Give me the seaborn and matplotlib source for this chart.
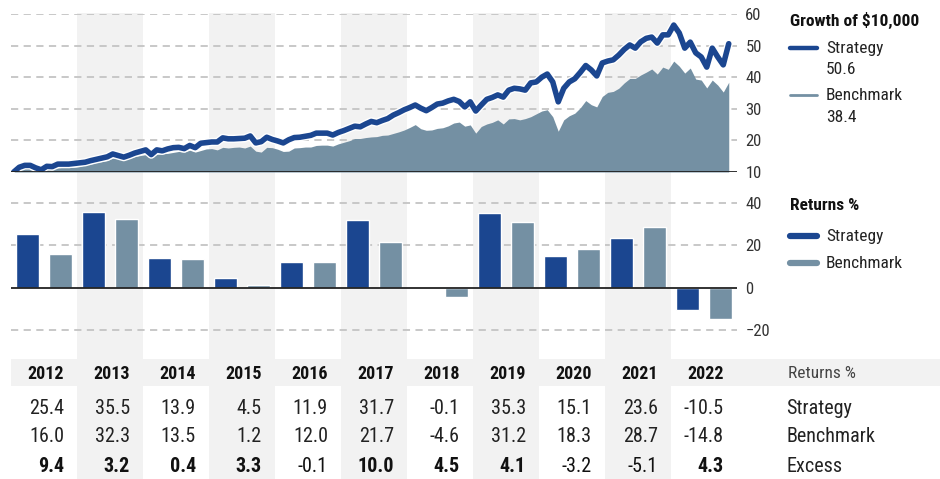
import numpy as np
import pandas as pd
import seaborn as sns
import matplotlib.pyplot as plt
import matplotlib.patheffects as pe
from matplotlib.lines import Line2D
from matplotlib.patches import Rectangle

# ---- data ----
years = ["2012", "2013", "2014", "2015", "2016", "2017", "2018", "2019", "2020", "2021", "2022"]
strategy_ret = [25.4, 35.5, 13.9, 4.5, 11.9, 31.7, -0.1, 35.3, 15.1, 23.6, -10.5]
benchmark_ret = [16.0, 32.3, 13.5, 1.2, 12.0, 21.7, -4.6, 31.2, 18.3, 28.7, -14.8]
excess_ret = [9.4, 3.2, 0.4, 3.3, -0.1, 10.0, 4.5, 4.1, -3.2, -5.1, 4.3]

# growth of $10,000 (in thousands), month ends Dec 2011 .. Oct 2022
strategy_growth = [
    10.0,
    11.5, 12.1, 12.1, 11.3, 10.7, 11.8, 11.7, 12.5, 12.5, 12.5, 12.7, 12.9,
    13.1, 13.6, 14.0, 14.4, 14.8, 15.7, 15.2, 14.7, 15.3, 16.0, 16.5, 17.0,
    15.5, 17.0, 16.7, 17.3, 17.7, 17.8, 17.4, 18.4, 17.7, 19.1, 19.3, 19.5,
    19.5, 20.8, 20.5, 20.5, 20.6, 20.7, 21.4, 19.2, 19.6, 21.0, 20.3, 19.8,
    19.2, 20.2, 20.9, 21.0, 21.3, 21.6, 22.3, 22.3, 22.3, 21.7, 22.5, 23.1,
    23.8, 24.5, 24.3, 25.2, 26.0, 25.6, 26.3, 26.9, 28.0, 28.8, 29.7, 30.4,
    31.2, 30.2, 29.4, 30.4, 31.5, 31.8, 32.5, 33.0, 32.3, 30.6, 32.2, 29.3,
    31.2, 33.0, 33.6, 34.4, 33.7, 35.9, 36.5, 36.3, 35.9, 38.2, 38.5, 40.0,
    41.0, 38.5, 32.2, 36.5, 38.5, 39.5, 41.5, 43.7, 42.3, 40.4, 44.5, 45.1,
    45.5, 47.0, 48.8, 50.2, 49.2, 51.2, 52.3, 52.7, 50.8, 53.4, 53.4, 56.5,
    54.0, 49.2, 51.1, 47.7, 46.4, 43.2, 49.2, 46.4, 43.9, 50.6,
]
benchmark_growth = [
    10.0,
    10.9, 11.2, 11.3, 10.9, 10.4, 10.9, 11.0, 11.3, 11.5, 11.4, 11.5, 11.7,
    12.3, 12.5, 13.0, 13.3, 13.6, 14.4, 14.2, 13.8, 14.3, 14.9, 15.2, 15.5,
    14.8, 15.6, 15.8, 15.9, 16.2, 16.5, 16.3, 16.9, 16.3, 16.8, 17.3, 17.4,
    17.0, 17.8, 17.6, 17.8, 17.9, 17.6, 18.2, 16.6, 16.3, 17.8, 17.7, 17.2,
    16.5, 16.6, 17.6, 17.7, 17.9, 17.9, 18.4, 18.5, 18.5, 18.2, 18.9, 19.4,
    19.9, 20.6, 20.6, 20.9, 21.1, 21.2, 21.6, 21.7, 22.2, 22.7, 23.3, 24.1,
    25.0, 23.7, 23.2, 23.3, 23.8, 24.0, 24.6, 25.5, 25.8, 24.5, 24.9, 22.3,
    24.4, 25.2, 25.7, 26.5, 25.2, 26.8, 26.9, 26.5, 26.9, 27.5, 28.4, 29.3,
    29.7, 27.5, 22.9, 26.5, 27.8, 28.6, 30.3, 32.6, 31.3, 30.6, 33.9, 35.2,
    35.5, 36.5, 38.2, 39.6, 39.6, 40.7, 41.6, 42.6, 41.0, 43.2, 42.5, 45.1,
    43.5, 41.3, 42.9, 39.4, 39.1, 36.6, 39.1, 37.5, 35.3, 38.4,
]

STRAT = "#1b4690"
BENCH = "#7490a3"
SHADE = "#f2f2f2"
GRID = "#c4c4c4"

sns.set_theme(style="white")
plt.rcParams["font.family"] = ["Roboto Condensed", "DejaVu Sans"]

W, H = 940, 479
fig = plt.figure(figsize=(W / 100, H / 100), dpi=100)


def box(l, t, r, b):
    return [l / W, 1 - b / H, (r - l) / W, (b - t) / H]


def fx(px):
    return px / W


def fy(py):
    return 1 - py / H


# background year columns
bg = fig.add_axes(box(11, 13, 737, 479))
bg.set_xlim(-0.5, 10.5)
bg.set_ylim(0, 1)
for i in range(1, len(years), 2):
    bg.axvspan(i - 0.5, i + 0.5, color=SHADE, lw=0)
bg.axis("off")

# ---- growth panel ----
dates = pd.date_range("2011-12-31", periods=len(strategy_growth), freq="ME")
xg = np.asarray(dates.year + dates.month / 12 + 1 / 24)

ax = fig.add_axes(box(11, 14, 737, 172))
ax.patch.set_alpha(0)
ax.fill_between(xg, 10, benchmark_growth, color=BENCH, lw=0, zorder=2)
sns.lineplot(x=xg, y=strategy_growth, ax=ax, color=STRAT, lw=4.0, zorder=3,
             path_effects=[pe.Stroke(linewidth=6.0, foreground="white"), pe.Normal()])
for v in [20, 30, 40, 50, 60]:
    ax.axhline(v, color=GRID, lw=1.3, dashes=(4, 3), zorder=1)
ax.axhline(10, color="#222222", lw=1.3, zorder=4)
ax.set_xlim(2012, 2023)
ax.set_ylim(10, 60)
ax.set_yticks([10, 20, 30, 40, 50, 60])
ax.set_xticks([])
ax.set_xlabel("")
ax.set_ylabel("")
ax.yaxis.tick_right()
ax.tick_params(axis="y", length=0, pad=6, labelsize=12, labelcolor="#333333")
for s in ax.spines.values():
    s.set_visible(False)

# ---- returns panel ----
df = pd.DataFrame({
    "year": years * 2,
    "series": ["Strategy"] * len(years) + ["Benchmark"] * len(years),
    "ret": strategy_ret + benchmark_ret,
})
ax2 = fig.add_axes(box(11, 180, 737, 359))
ax2.patch.set_alpha(0)
sns.barplot(data=df, x="year", y="ret", hue="series", palette=[STRAT, BENCH],
            width=1.0, gap=0.3, saturation=1, legend=False, ax=ax2, zorder=3)
for v in [40, 20, -20]:
    ax2.axhline(v, color=GRID, lw=1.3, dashes=(4, 3), zorder=1)
ax2.axhline(0, color="#222222", lw=1.3, zorder=4)
ax2.set_xlim(-0.5, 10.5)
ax2.set_ylim(-33.7, 50.8)
ax2.set_yticks([-20, 0, 20, 40])
ax2.set_xticks([])
ax2.set_xlabel("")
ax2.set_ylabel("")
ax2.yaxis.tick_right()
ax2.tick_params(axis="y", length=0, pad=6, labelsize=12, labelcolor="#333333")
for s in ax2.spines.values():
    s.set_visible(False)

# ---- legends ----
fig.text(fx(790), fy(20), "Growth of $10,000", fontsize=12.5, fontweight="bold",
         va="center", ha="left", color="#111111")
fig.add_artist(Line2D([fx(790), fx(817)], [fy(48), fy(48)], color=STRAT, lw=3.2))
fig.add_artist(Line2D([fx(790), fx(817)], [fy(95), fy(95)], color=BENCH, lw=2.0))
for label, py in [("Strategy", 48), ("50.6", 70), ("Benchmark", 95), ("38.4", 117)]:
    fig.text(fx(826), fy(py), label, fontsize=12.5, va="center", ha="left", color="#222222")

fig.text(fx(790), fy(206), "Returns %", fontsize=12.5, fontweight="bold",
         va="center", ha="left", color="#111111")
fig.add_artist(Line2D([fx(790), fx(817)], [fy(236), fy(236)], color=STRAT, lw=4.5))
fig.add_artist(Line2D([fx(790), fx(817)], [fy(263), fy(263)], color=BENCH, lw=4.5))
fig.text(fx(826), fy(236), "Strategy", fontsize=12.5, va="center", ha="left", color="#222222")
fig.text(fx(826), fy(263), "Benchmark", fontsize=12.5, va="center", ha="left", color="#222222")

# ---- table ----
fig.add_artist(Rectangle((fx(11), fy(386)), fx(940) - fx(11), fy(359) - fy(386),
                         transform=fig.transFigure, color=SHADE, lw=0, zorder=1))
col_w = (737 - 11) / len(years)
for i, yr in enumerate(years):
    xr = fx(11 + (i + 1) * col_w - 13)
    fig.text(xr, fy(374), yr, fontsize=13, fontweight="bold", ha="right", va="center",
             color="#111111")
    fig.text(xr, fy(408), f"{strategy_ret[i]:.1f}", fontsize=14.5, ha="right", va="center",
             color="#222222")
    fig.text(xr, fy(437), f"{benchmark_ret[i]:.1f}", fontsize=14.5, ha="right", va="center",
             color="#222222")
    fig.text(xr, fy(466), f"{excess_ret[i]:.1f}", fontsize=14.5, ha="right", va="center",
             fontweight="bold" if excess_ret[i] > 0 else "normal", color="#111111")

fig.text(fx(788), fy(374), "Returns %", fontsize=12.5, ha="left", va="center", color="#444444")
for label, py in [("Strategy", 408), ("Benchmark", 437), ("Excess", 466)]:
    fig.text(fx(786), fy(py), label, fontsize=14.5, ha="left", va="center", color="#222222")

fig.savefig("out.png", dpi=100)
